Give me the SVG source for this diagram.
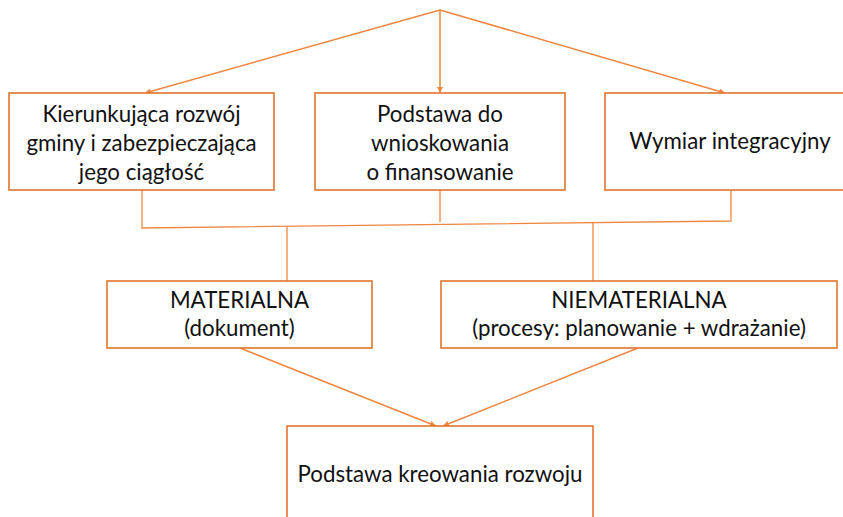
<svg xmlns="http://www.w3.org/2000/svg" width="843" height="517" viewBox="0 0 843 517">
<style>
.box{fill:#FFFFFF;stroke:#E0752F;stroke-width:1.6}
.lbl{font-family:Lato,"Open Sans","Liberation Sans",sans-serif;font-size:22.3px;fill:#111111;text-anchor:middle}
.con{fill:none;stroke:#EE8640;stroke-width:1.3}
.arr{fill:none;stroke:#EE8640;stroke-width:1.5;marker-end:url(#ah)}
</style>
<defs>
<marker id="ah" viewBox="0 0 10 10" refX="10" refY="5" markerWidth="6" markerHeight="6" markerUnits="userSpaceOnUse" orient="auto">
<path d="M0,0 L10,5 L0,10 z" fill="#EE8640"/>
</marker>
</defs>
<rect width="843" height="517" fill="#FFFFFF"/>
<g id="connectors">
<line class="arr" x1="440" y1="10" x2="145" y2="93"/>
<line class="arr" x1="440" y1="10" x2="440" y2="93"/>
<line class="arr" x1="440" y1="10" x2="725" y2="93"/>
<polyline class="con" points="142,190 142,228 731,221 731,190"/>
<line class="con" x1="440" y1="190" x2="440" y2="222"/>
<line class="con" x1="287" y1="227" x2="287" y2="281"/>
<line class="con" x1="593" y1="223" x2="593" y2="281"/>
<line class="arr" x1="240" y1="348" x2="436" y2="426"/>
<line class="arr" x1="638" y1="348" x2="443" y2="426"/>
</g>
<g id="node-kierunkujaca">
<rect class="box" x="9" y="93" width="265" height="97"/>
<text class="lbl" x="141.5" y="122">Kierunkująca rozwój</text>
<text class="lbl" x="141.5" y="151">gminy i zabezpieczająca</text>
<text class="lbl" x="141.5" y="180">jego ciągłość</text>
</g>
<g id="node-podstawa-wnioskowania">
<rect class="box" x="315" y="93" width="250" height="97"/>
<text class="lbl" x="440" y="122">Podstawa do</text>
<text class="lbl" x="440" y="151">wnioskowania</text>
<text class="lbl" x="440" y="180">o finansowanie</text>
</g>
<g id="node-wymiar">
<rect class="box" x="605" y="93" width="250" height="97"/>
<text class="lbl" x="730" y="149">Wymiar integracyjny</text>
</g>
<g id="node-materialna">
<rect class="box" x="107" y="281" width="265" height="67"/>
<text class="lbl" x="239.5" y="308">MATERIALNA</text>
<text class="lbl" x="239.5" y="336">(dokument)</text>
</g>
<g id="node-niematerialna">
<rect class="box" x="441" y="281" width="396" height="67"/>
<text class="lbl" x="639" y="308">NIEMATERIALNA</text>
<text class="lbl" x="639" y="336">(procesy: planowanie + wdrażanie)</text>
</g>
<g id="node-kreowanie">
<rect class="box" x="287" y="426" width="306" height="110"/>
<text class="lbl" x="440" y="482">Podstawa kreowania rozwoju</text>
</g>
</svg>
